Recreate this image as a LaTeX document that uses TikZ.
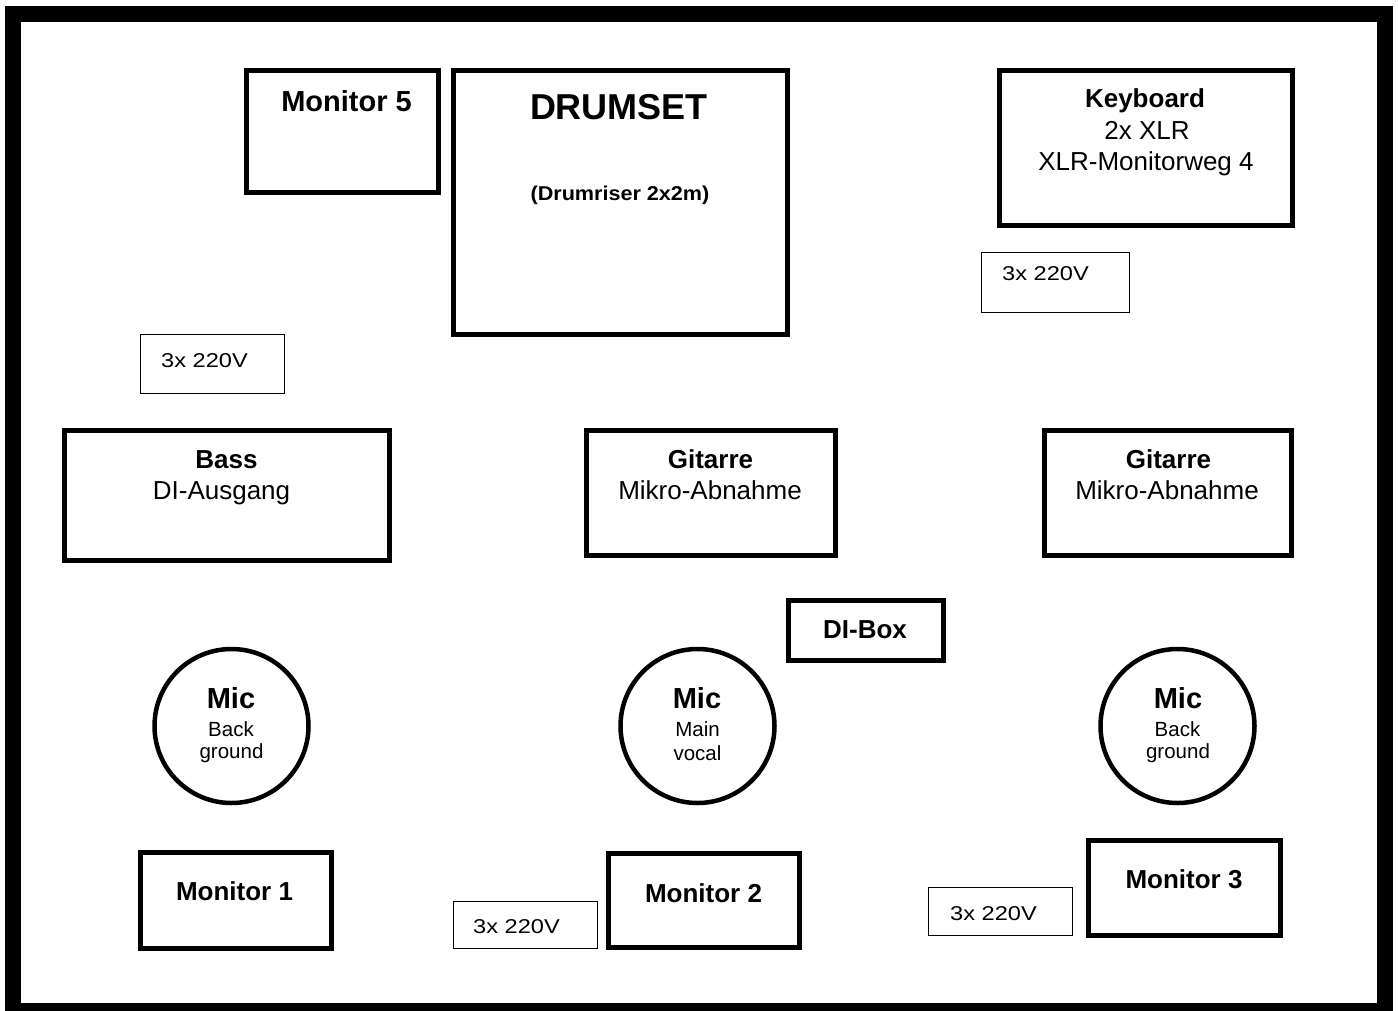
\documentclass[tikz,border=0pt]{standalone}
\usepackage{fontspec}
\setmainfont{Liberation Sans}
\begin{document}
\begin{tikzpicture}[x=1pt,y=-1pt,
  thickbox/.style={draw=black,line width=5pt,inner sep=0pt,rectangle},
  thinbox/.style={draw=black,line width=1.5pt,inner sep=0pt,rectangle},
  micring/.style={draw=black,line width=4.5pt,circle,inner sep=0pt,minimum size=154pt},
  lbl/.style={anchor=base,inner sep=0pt,font=\fontsize{26}{26}\selectfont},
  blbl/.style={anchor=base,inner sep=0pt,font=\fontsize{26}{26}\selectfont\bfseries},
  mlbl/.style={anchor=base,inner sep=0pt,font=\fontsize{29}{29}\selectfont\bfseries},
  slbl/.style={anchor=base,inner sep=0pt,font=\fontsize{20.5}{20.5}\selectfont},
  plbl/.style={anchor=base west,inner sep=0pt,font=\fontsize{20}{20}\selectfont}
]
\useasboundingbox (0,0) rectangle (1398,1010);
\clip (0,0) rectangle (1398,1010);
\fill[white] (0,0) rectangle (1398,1010);
% outer frame
\draw[line width=16pt] (13,14) rectangle (1385,1011);

% boxes
\node[thickbox,minimum width=192pt,minimum height=122pt] (mon5) at (342.5,131.5) {};
\node[thickbox,minimum width=334pt,minimum height=264.5pt] (drum) at (620.5,202.25) {};
\node[thickbox,minimum width=292.5pt,minimum height=155pt] (keyb) at (1145.75,148) {};
\node[thinbox,minimum width=144pt,minimum height=59pt] (pwa) at (212.5,364) {};
\node[thinbox,minimum width=148pt,minimum height=60pt] (pwb) at (1055.5,282.5) {};
\node[thickbox,minimum width=325.5pt,minimum height=130pt] (bass) at (226.75,495) {};
\node[thickbox,minimum width=249pt,minimum height=125.5pt] (gita) at (711,492.75) {};
\node[thickbox,minimum width=247.5pt,minimum height=125.5pt] (gitb) at (1167.75,492.75) {};
\node[thickbox,minimum width=155pt,minimum height=60pt] (dibox) at (866,630.5) {};
\node[micring] (mica) at (231.5,726) {};
\node[micring] (micb) at (697.5,726) {};
\node[micring] (micc) at (1177.5,726) {};
\node[thickbox,minimum width=191pt,minimum height=96.5pt] (mon1) at (236,900.25) {};
\node[thickbox,minimum width=191pt,minimum height=94pt] (mon2) at (704,900.5) {};
\node[thinbox,minimum width=144pt,minimum height=47pt] (pwc) at (525.5,925) {};
\node[thickbox,minimum width=192pt,minimum height=95pt] (mon3) at (1184.5,888) {};
\node[thinbox,minimum width=144pt,minimum height=48pt] (pwd) at (1000.5,911.5) {};

% texts
\node[mlbl] (tmon5) at (346.5,111) {Monitor 5};
\node[anchor=base,inner sep=0pt,font=\fontsize{36}{36}\selectfont\bfseries] (tdrum) at (619,119) {DRUMSET};
\node[anchor=base,inner sep=0pt,font=\fontsize{20}{20}\selectfont\bfseries] (triser) at (620,200) {\scalebox{1.08}[1]{(Drumriser 2x2m)}};
\node[blbl] (tkeyb) at (1145,107) {Keyboard};
\node[lbl] (tkeyb2) at (1147,139) {2x XLR};
\node[lbl] (tkeyb3) at (1146,170) {XLR-Monitorweg 4};
\node[plbl] (tpwa) at (161,367) {\scalebox{1.18}[1]{3x 220V}};
\node[plbl] (tpwb) at (1002,280) {\scalebox{1.18}[1]{3x 220V}};
\node[plbl] (tpwc) at (473,933) {\scalebox{1.18}[1]{3x 220V}};
\node[plbl] (tpwd) at (950,920) {\scalebox{1.18}[1]{3x 220V}};
\node[blbl] (tbass) at (226.5,468) {Bass};
\node[lbl] (tbass2) at (221.5,499) {DI-Ausgang};
\node[blbl] (tgita) at (710.5,468) {Gitarre};
\node[lbl] (tgita2) at (710,499) {Mikro-Abnahme};
\node[blbl] (tgitb) at (1168.5,468) {Gitarre};
\node[lbl] (tgitb2) at (1167,499) {Mikro-Abnahme};
\node[blbl] (tdibox) at (865,638) {DI-Box};
\node[mlbl] (tmica) at (231,708) {Mic};
\node[slbl] (tmica2) at (231,736) {Back};
\node[slbl] (tmica3) at (231.5,758) {ground};
\node[mlbl] (tmicb) at (697,708) {Mic};
\node[slbl] (tmicb2) at (697.5,736) {Main};
\node[slbl] (tmicb3) at (697.5,760) {vocal};
\node[mlbl] (tmicc) at (1178,708) {Mic};
\node[slbl] (tmicc2) at (1177.5,736) {Back};
\node[slbl] (tmicc3) at (1178,758) {ground};
\node[blbl] (tmon1) at (234.5,900) {Monitor 1};
\node[blbl] (tmon2) at (703.5,902) {Monitor 2};
\node[blbl] (tmon3) at (1184,888) {Monitor 3};
\end{tikzpicture}
\end{document}
